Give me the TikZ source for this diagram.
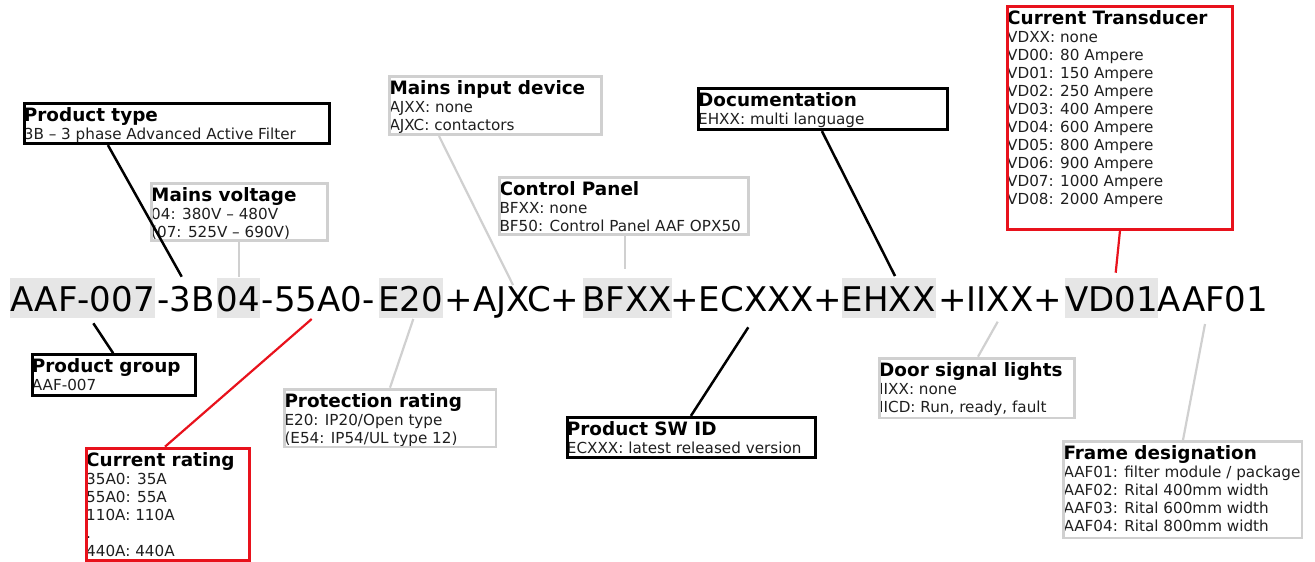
\documentclass[tikz,border=0pt]{standalone}
\usepackage{fontspec}
\setmainfont{DejaVu Sans}
\usetikzlibrary{calc}
\definecolor{lgray}{RGB}{208,208,208}
\definecolor{hlgray}{RGB}{230,230,230}
\definecolor{bred}{RGB}{232,18,28}
\tikzset{
  ttl/.style={anchor=base west, inner sep=0pt, font=\fontsize{18.4}{22}\selectfont\bfseries},
  bdy/.style={anchor=base west, inner sep=0pt, text=black!88, font=\fontsize{15.2}{18}\selectfont},
  bxblack/.style={draw=black, line width=3pt},
  bxgray/.style={draw=lgray, line width=2.8pt},
  bxred/.style={draw=bred, line width=2.8pt},
  codefont/.style={inner sep=0pt, font=\fontsize{34}{40}\selectfont},
  hl/.style={codefont, fill=hlgray, text height=34.4pt, text depth=5.6pt, anchor=north west},
  plain/.style={codefont, anchor=base},
  lnblack/.style={line width=2.5pt, black},
  lngray/.style={line width=2.2pt, lgray},
  lnred/.style={line width=2.2pt, bred}
}
% #1 name, #2 style, #3 x1, #4 y1, #5 x2, #6 y2 (outer), #7 title, #8 lines
\newcommand\infobox[8]{%
  \node[ttl] (#1-t) at ({#3+1},{#4+19.3}) {#7};
  \foreach \l [count=\i] in {#8} {\node[bdy] (#1-\i) at ({#3+1},{#4+37.3+18*(\i-1)}) {\l};}
  \node[#2, minimum width={#5-#3-2.8}, minimum height={#6-#4-2.8}, inner sep=0pt] (#1) at ({(#3+#5)/2},{(#4+#6)/2}) {};
}
\begin{document}
\begin{tikzpicture}[x=1pt,y=-1pt]
\useasboundingbox (0,0) rectangle (1315,562);
% code string
\node[hl, minimum width=145] (h1) at (10,277.3) {AAF-007};
\node[plain] (s1) at (185.85,311.7) {-3B};
\node[hl, minimum width=41.3] (h2) at (216.7,277.3) {04};
\node[plain] (s2) at (318.15,311.7) {-55A0-};
\node[hl, minimum width=63.4] (h3) at (378.3,277.3) {E20};
\node[plain] (s3) at (512,311.7) {+AJXC+};
\node[hl, minimum width=88.7] (h4) at (582.3,277.3) {BFXX};
\node[plain] (s4) at (756.35,311.7) {+ECXXX+};
\node[hl, minimum width=93.3] (h5) at (841.7,277.3) {EHXX};
\node[plain] (s5) at (1000,311.7) {+IIXX+};
\node[hl, minimum width=92.7] (h6) at (1065,277.3) {VD01};
\node[codefont, anchor=base west] (s6) at (1157.7,311.7) {AAF01};
% connector end points on the code string
\coordinate (k3B) at (181.7,276.7);
\coordinate (k04) at (239,276.7);
\coordinate (kAJ) at (513,285);
\coordinate (kBF) at (625,269.3);
\coordinate (kEH) at (895,276);
\coordinate (kVD) at (1115.7,272.7);
\coordinate (kAAF) at (93.3,323.3);
\coordinate (kA0) at (311.7,319);
\coordinate (kE20) at (413.3,319);
\coordinate (kEC) at (748.3,327.3);
\coordinate (kII) at (997.7,321.7);
\coordinate (kAF) at (1205,324);
% boxes
\infobox{pt}{bxblack}{22.7}{101.7}{330.7}{145}{Product type}{3B – 3 phase Advanced Active Filter}
\infobox{mv}{bxgray}{150}{182}{329}{242}{Mains voltage}{04: 380V – 480V, (07: 525V – 690V)}
\infobox{mi}{bxgray}{388.3}{75}{602.7}{136}{Mains input device}{AJXX: none, AJXC: contactors}
\infobox{cp}{bxgray}{498.3}{176}{750}{236}{Control Panel}{BFXX: none, BF50: Control Panel AAF OPX50}
\infobox{doc}{bxblack}{697}{87.3}{949}{131}{Documentation}{EHXX: multi language}
\infobox{ct}{bxred}{1006}{5}{1233.5}{230.5}{Current Transducer}{VDXX: none, VD00: 80 Ampere, VD01: 150 Ampere, VD02: 250 Ampere, VD03: 400 Ampere, VD04: 600 Ampere, VD05: 800 Ampere, VD06: 900 Ampere, VD07: 1000 Ampere, VD08: 2000 Ampere}
\infobox{pg}{bxblack}{30.7}{353.3}{196.7}{396.7}{Product group}{AAF-007}
\infobox{cr}{bxred}{85}{446.7}{250.7}{562}{Current rating}{35A0: 35A, 55A0: 55A, 110A: 110A, ., 440A: 440A}
\infobox{pr}{bxgray}{283.3}{387.7}{497.3}{448.3}{Protection rating}{E20: IP20/Open type, (E54: IP54/UL type 12)}
\infobox{sw}{bxblack}{565.7}{416}{817}{459}{Product SW ID}{ECXXX: latest released version}
\infobox{ds}{bxgray}{878}{356.7}{1075.6}{419.3}{Door signal lights}{IIXX: none, {IICD: Run, ready, fault}}
\infobox{fd}{bxgray}{1062.3}{440}{1303.4}{539.3}{Frame designation}{AAF01: filter module / package, AAF02: Rital 400mm width, AAF03: Rital 600mm width, AAF04: Rital 800mm width}
% connectors
\draw[lnblack] ([xshift=85.3pt]pt.south west) -- (k3B);
\draw[lngray] (mv.south -| k04) -- (k04);
\draw[lngray] ([xshift=50.7pt]mi.south west) -- (kAJ);
\draw[lngray] (cp.south -| kBF) -- (kBF);
\draw[lnblack] ([xshift=125pt]doc.south west) -- (kEH);
\draw[lnred] ([xshift=114pt]ct.south west) -- (kVD);
\draw[lnblack] (kAAF) -- ([xshift=82.6pt]pg.north west);
\draw[lnred] (kA0) -- ([xshift=80pt]cr.north west);
\draw[lngray] (kE20) -- ([xshift=106.7pt]pr.north west);
\draw[lnblack] (kEC) -- ([xshift=125.3pt]sw.north west);
\draw[lngray] (kII) -- ([xshift=100pt]ds.north west);
\draw[lngray] (kAF) -- ([xshift=120.7pt]fd.north west);
\end{tikzpicture}
\end{document}
